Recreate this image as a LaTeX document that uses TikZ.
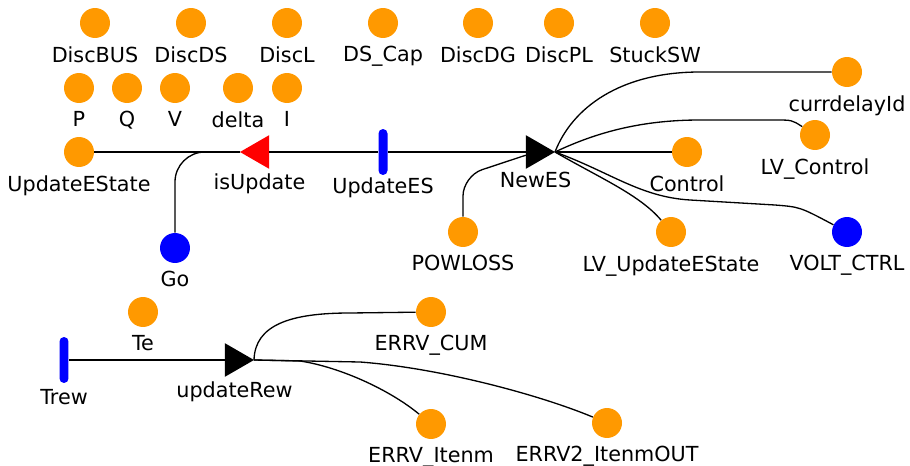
\documentclass[tikz,border=0pt]{standalone}
\usepackage{fontspec}
\setmainfont{DejaVu Sans}
\usepackage{tikz}
\usetikzlibrary{shapes.geometric}
\definecolor{placeorange}{RGB}{255,153,0}
\definecolor{placeblue}{RGB}{0,0,255}
\definecolor{transred}{RGB}{255,0,0}
\tikzset{
  place/.style={circle, fill=placeorange, minimum size=0.6cm, inner sep=0pt},
  bplace/.style={place, fill=placeblue},
  timed/.style={rectangle, rounded corners=0.09cm, fill=placeblue,
                minimum width=0.18cm, minimum height=0.92cm, inner sep=0pt},
  inst/.style={regular polygon, regular polygon sides=3,
               regular polygon rotate=-90, minimum size=0.78cm,
               inner sep=0pt, outer sep=0pt, fill=black},
  rinst/.style={inst, regular polygon rotate=90, fill=transred},
  arc/.style={line width=0.75pt},
  every label/.style={font=\fontsize{11.8}{14}\selectfont, inner sep=2pt},
}

\begin{document}
\begin{tikzpicture}[x=0.02cm, y=-0.02cm, label distance=2.5pt]

  \useasboundingbox (0,0) rectangle (910,466);

  % places, top rows
  \node[place, label=below:DiscBUS] (discbus) at (95,23) {};
  \node[place, label=below:DiscDS]  (discds)  at (191,23) {};
  \node[place, label=below:DiscL]   (discl)   at (287,23) {};
  \node[place, label=below:DS\_Cap] (dscap)   at (383,23) {};
  \node[place, label=below:DiscDG]  (discdg)  at (478,23) {};
  \node[place, label=below:DiscPL]  (discpl)  at (559,23) {};
  \node[place, label=below:StuckSW] (stucksw) at (655,23) {};

  \node[place, label=below:P]     (p)     at (79,88) {};
  \node[place, label=below:Q]     (q)     at (127,88) {};
  \node[place, label=below:V]     (v)     at (175,88) {};
  \node[place, label=below:delta] (delta) at (238,88) {};
  \node[place, label=below:I]     (i)     at (287,88) {};

  % main chain
  \node[place, label=below:UpdateEState] (updateestate) at (79,152) {};
  \node[rinst, anchor=corner 1,
        label={[label distance=4pt]below:isUpdate}] (isupdate) at (240,152) {};
  \node[timed, label={[label distance=-1pt]below:UpdateES}] (updatees) at (383,152) {};
  \node[inst, anchor=corner 1, label={[label distance=3pt]below:NewES}] (newes) at (555,152) {};
  \node[bplace, label=below:Go] (go) at (175,248) {};

  \node[place, label=below:currdelayId]     (currdelay) at (847,72) {};
  \node[place, label=below:LV\_Control]     (lvcontrol) at (815,135) {};
  \node[place, label=below:Control]         (control)   at (687,152) {};
  \node[place, label=below:POWLOSS]         (powloss)   at (463,232) {};
  \node[place, label=below:LV\_UpdateEState] (lvupdate) at (671,232) {};
  \node[bplace, label=below:VOLT\_CTRL]     (voltctrl)  at (847,232) {};

  % reward chain
  \node[place, label=below:Te] (te) at (143,312) {};
  \node[timed, label={[label distance=1pt]below:Trew}] (trew) at (64,360) {};
  \node[inst, anchor=corner 1, label={[label distance=3.5pt]below:updateRew}] (updaterew) at (254,360) {};
  \node[place, label=below:ERRV\_CUM]       (errvcum)  at (431,312) {};
  \node[place, label=below:ERRV\_Itenm]     (errvitenm) at (431,424) {};
  \node[place, label=below:ERRV2\_ItenmOUT] (errvout)  at (607,423) {};

  % arcs
  \draw[arc] (updateestate) -- (isupdate.corner 1);
  \draw[arc] (isupdate) -- (updatees);
  \draw[arc] (updatees) -- (newes);
  \draw[arc, rounded corners=0.6cm] (go.north) |- (isupdate.corner 1);

  \draw[arc] (newes.corner 1) -- (control);
  \draw[arc] (newes.corner 1) .. controls (572,108) and (620,72) .. (700,72) -- (currdelay);
  \draw[arc] (newes.corner 1) .. controls (595,133) and (640,120) .. (700,120)
    -- (775,120) .. controls (792,120) .. (lvcontrol);
  \draw[arc, rounded corners=0.4cm] (powloss.north) -- (463,176) -- (newes);
  \draw[arc] (newes.corner 1) .. controls (600,178) and (640,195) .. (lvupdate);
  \draw[arc] (newes.corner 1) .. controls (610,172) and (640,197) .. (690,200)
    -- (775,205) .. controls (800,207) .. (voltctrl);

  \draw[arc] (trew) -- (updaterew);
  \draw[arc] (updaterew.corner 1) .. controls (255,325) and (290,313) .. (350,313) -- (errvcum);
  \draw[arc] (updaterew.corner 1) -- (300,361) .. controls (340,367) and (390,390) .. (errvitenm);
  \draw[arc] (updaterew.corner 1) -- (360,362) .. controls (440,368) and (540,395) .. (errvout);

\end{tikzpicture}
\end{document}
